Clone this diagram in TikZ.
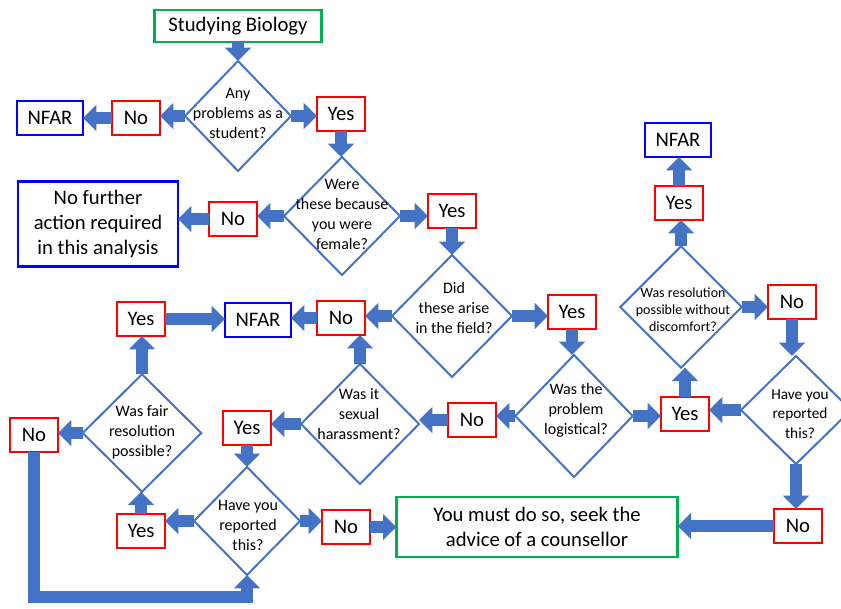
\documentclass[tikz,border=0pt]{standalone}
\usepackage{fontspec}
\setmainfont{Carlito}
\usetikzlibrary{shapes.geometric,arrows.meta}
\definecolor{arrblue}{HTML}{4472C4}
\definecolor{boxred}{HTML}{FF0000}
\definecolor{boxgreen}{HTML}{00B050}
\definecolor{boxblue}{HTML}{0000FF}
\tikzset{
  box/.style={draw, fill=white, line width=2pt, inner sep=0pt, outer sep=0pt, align=center,
    font=\fontsize{15.5}{19}\selectfont},
  redbox/.style={box, draw=boxred, minimum width=36pt, minimum height=25.5pt},
  bluebox/.style={box, draw=boxblue, minimum width=49.5pt, minimum height=25.5pt},
  greenbox/.style={box, draw=boxgreen},
  dia/.style={diamond, draw=arrblue, line width=1.5pt, inner sep=0pt, outer sep=0pt, fill=white},
  dtxt/.style={align=center, inner sep=0pt, font=\fontsize{12}{15}\selectfont},
  barrow/.style={draw=arrblue, line width=9pt, line join=miter,
    -{Triangle[width=19pt,length=10pt]}},
}
\begin{document}
\begin{tikzpicture}[x=0.75pt,y=-0.75pt]
\useasboundingbox (0,0) rectangle (841,608);
% diamonds
\node[dia, minimum width=79.5pt, minimum height=82.5pt] (d1) at (238,116) {};
\node[dia, minimum width=87pt, minimum height=88.5pt] (d2) at (342,216) {};
\node[dia, minimum width=90pt, minimum height=91.5pt] (d3) at (452,316) {};
\node[dia, minimum width=88pt, minimum height=91.5pt] (d4) at (574,416) {};
\node[dia, minimum width=88.5pt, minimum height=90pt] (d5) at (360,424) {};
\node[dia, minimum width=89pt, minimum height=88pt] (d6) at (142,433) {};
\node[dia, minimum width=79.5pt, minimum height=81pt] (d7) at (247,521) {};
\node[dia, minimum width=82.5pt, minimum height=81pt] (d8) at (796,410) {};
\node[dia, minimum width=91pt, minimum height=91pt] (d9) at (681,307) {};
% diamond texts
\node[dtxt] (d1t) at (238,113) {Any\\problems as a\\student?};
\node[dtxt] (d2t) at (342,214) {Were\\these because\\you were\\female?};
\node[dtxt] (d3t) at (454,308) {Did\\these arise\\in the field?};
\node[dtxt] (d4t) at (576,410) {Was the\\problem\\logistical?};
\node[dtxt] (d5t) at (359,414) {Was it\\sexual\\harassment?};
\node[dtxt] (d6t) at (142,432) {Was fair\\resolution\\possible?};
\node[dtxt] (d7t) at (248,525) {Have you\\reported\\this?};
\node[dtxt, font=\fontsize{11.5}{14.5}\selectfont] (d8t) at (800,414) {Have you\\reported\\this?};
\node[dtxt, font=\fontsize{10.5}{12.8}\selectfont] (d9t) at (683,310) {Was resolution\\possible without\\discomfort?};
% boxes
\node[greenbox, minimum width=125pt, minimum height=24pt] (start) at (238,26) {Studying Biology};
\node[redbox] (no1) at (136,118) {No};
\node[bluebox] (nfar1) at (50,118) {NFAR};
\node[redbox] (yes1) at (341,114) {Yes};
\node[redbox] (no2) at (233,219) {No};
\node[box, draw=boxblue, minimum width=120pt, minimum height=64pt] (nfa) at (98,224) {No further\\action required\\in this analysis};
\node[redbox] (yes2) at (452,211) {Yes};
\node[redbox] (yes3) at (572,312) {Yes};
\node[redbox] (no3) at (341,318) {No};
\node[bluebox] (nfar2) at (258,320) {NFAR};
\node[redbox] (yes4) at (141,319) {Yes};
\node[redbox] (no4) at (472,420) {No};
\node[redbox] (yes5) at (247,428) {Yes};
\node[redbox] (noL) at (34,435) {No};
\node[redbox] (yes6) at (141,531) {Yes};
\node[redbox] (no7) at (346,527) {No};
\node[greenbox, minimum width=211pt, minimum height=45pt] (green) at (537,527) {You must do so, seek the\\advice of a counsellor};
\node[redbox] (noR) at (798,526) {No};
\node[redbox] (yes8) at (685,414) {Yes};
\node[redbox] (no9) at (792,302) {No};
\node[redbox] (yes9) at (679,203) {Yes};
\node[bluebox] (nfar3) at (678,140) {NFAR};
\coordinate (loop) at (150,597);
% arrows
\draw[barrow] (start.south) -- (start.south |- d1.north);
\draw[barrow] (d1.west) -- (d1.west -| no1.east);
\draw[barrow] (no1.west) -- (no1.west -| nfar1.east);
\draw[barrow] (d1.east) -- (d1.east -| yes1.west);
\draw[barrow] (yes1.south) -- (yes1.south |- d2.north);
\draw[barrow] (d2.west) -- (d2.west -| no2.east);
\draw[barrow] (no2.west) -- (no2.west -| nfa.east);
\draw[barrow] (d2.east) -- (d2.east -| yes2.west);
\draw[barrow] (yes2.south) -- (yes2.south |- d3.north);
\draw[barrow] (d3.east) -- (d3.east -| yes3.west);
\draw[barrow] (d3.west) -- (d3.west -| no3.east);
\draw[barrow] (no3.west) -- (no3.west -| nfar2.east);
\draw[barrow] (yes4.east) -- (yes4.east -| nfar2.west);
\draw[barrow] (yes3.south) -- (yes3.south |- d4.north);
\draw[barrow] (d4.west) -- (d4.west -| no4.east);
\draw[barrow] (no4.west) -- (no4.west -| d5.east);
\draw[barrow] (d5.north) -- (d5.north |- no3.south);
\draw[barrow] (d5.west) -- (d5.west -| yes5.east);
\draw[barrow] (yes5.south) -- (yes5.south |- d7.north);
\draw[barrow] (d7.west) -- (d7.west -| yes6.east);
\draw[barrow] (yes6.north) -- (yes6.north |- d6.south);
\draw[barrow] (d6.north) -- (d6.north |- yes4.south);
\draw[barrow] (d6.west) -- (d6.west -| noL.east);
\draw[barrow] (noL.south) |- (loop) -| (d7.south);
\draw[barrow] (d7.east) -- (d7.east -| no7.west);
\draw[barrow] (no7.east) -- (no7.east -| green.west);
\draw[barrow] (noR.west) -- (noR.west -| green.east);
\draw[barrow] (d8.south) -- (d8.south |- noR.north);
\draw[barrow] (no9.south) -- (no9.south |- d8.north);
\draw[barrow] (d9.east) -- (d9.east -| no9.west);
\draw[barrow] (d9.north) -- (d9.north |- yes9.south);
\draw[barrow] (yes9.north) -- (yes9.north |- nfar3.south);
\draw[barrow] (d4.east) -- (d4.east -| yes8.west);
\draw[barrow] (d8.west) -- (d8.west -| yes8.east);
\draw[barrow] (yes8.north) -- (yes8.north |- d9.south);
\end{tikzpicture}
\end{document}
